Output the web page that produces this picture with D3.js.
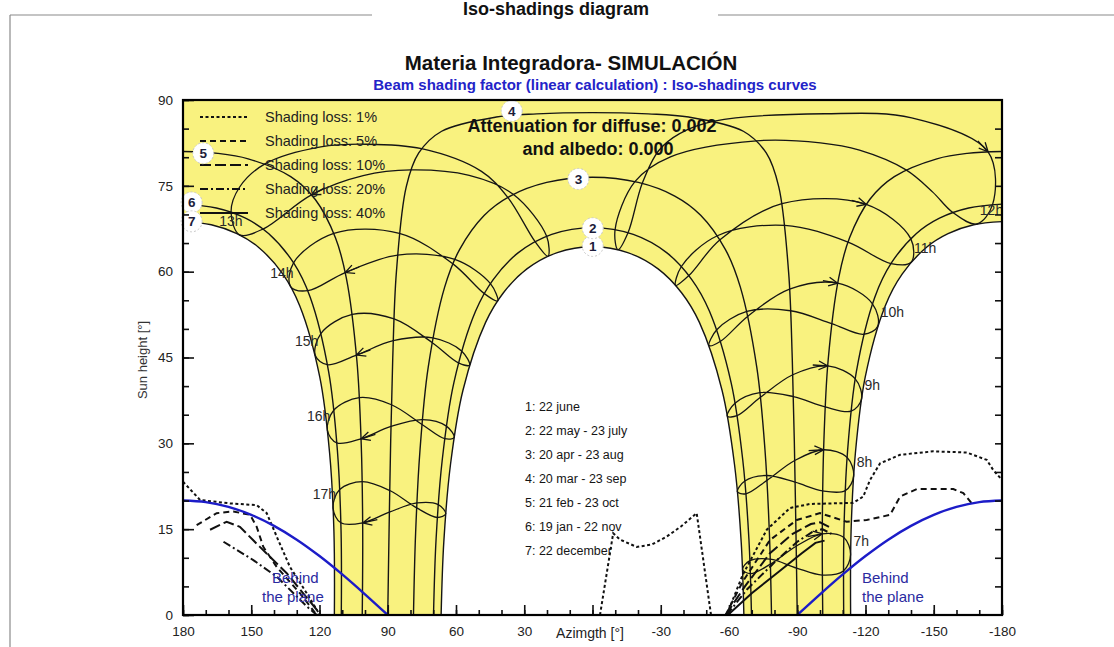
<!DOCTYPE html>
<html>
<head>
<meta charset="utf-8">
<script src="https://cdn.jsdelivr.net/npm/d3@7"></script>
<style>
  body { margin: 0; background: #fff; }
  svg { display: block; font-family: "Liberation Sans", Arial, sans-serif; }
</style>
</head>
<body>
<svg id="chart" width="1114" height="647"></svg>
<script>
// ---- Sun path curves: [azimuth (deg, west positive), sun height (deg)] ----
const path1 = [[66.54,0],[65.35,12.83],[62.42,26.30],[56.94,39.28],[46.99,51.14],[39.23,56.28],[28.83,60.48],[15.48,63.34],[0,64.36],[-15.48,63.34],[-28.83,60.48],[-39.23,56.28],[-46.99,51.14],[-56.94,39.28],[-62.42,26.30],[-65.35,12.83],[-66.54,0]];
const path2 = [[69.88,0],[68.75,13.28],[66.04,27.13],[60.95,40.57],[51.42,53.08],[43.65,58.62],[32.72,63.28],[17.92,66.51],[0,67.70],[-17.92,66.51],[-32.72,63.28],[-43.65,58.62],[-51.42,53.08],[-60.95,40.57],[-66.04,27.13],[-68.75,13.28],[-69.88,0]];
const path3 = [[78.69,0],[77.76,14.25],[75.82,28.84],[72.22,43.26],[65.02,57.25],[58.44,63.86],[47.55,69.87],[36.17,73.22],[20.12,75.60],[0,76.51],[-20.12,75.60],[-36.17,73.22],[-47.55,69.87],[-58.44,63.86],[-65.02,57.25],[-72.22,43.26],[-75.82,28.84],[-77.76,14.25],[-78.69,0]];
const path4 = [[90,0],[89.41,14.99],[88.73,29.98],[87.80,44.96],[86.20,59.92],[81.85,74.86],[76.37,80.74],[66.31,84.54],[42.29,87.02],[24.45,87.58],[0,87.80],[-24.45,87.58],[-42.29,87.02],[-66.31,84.54],[-76.37,80.74],[-81.85,74.86],[-86.20,59.92],[-87.80,44.96],[-88.73,29.98],[-89.41,14.99],[-90,0]];
const path5West = [[101.21,0],[101.01,15.14],[101.66,29.84],[103.57,44.47],[108.22,58.92],[112.99,65.93],[121.85,72.62],[132.67,76.61],[151.36,79.72],[164.71,80.67],[180,81.00]];
const path5East = [[-101.21,0],[-101.01,15.14],[-101.66,29.84],[-103.57,44.47],[-108.22,58.92],[-112.99,65.93],[-121.85,72.62],[-132.67,76.61],[-151.36,79.72],[-164.71,80.67],[-180,81.00]];
const path6West = [[110.42,0],[110.53,14.82],[112.14,28.80],[115.97,42.50],[124.09,55.54],[131.30,61.48],[142.27,66.63],[152.52,69.35],[165.35,71.13],[180,71.81]];
const path6East = [[-110.42,0],[-110.53,14.82],[-112.14,28.80],[-115.97,42.50],[-124.09,55.54],[-131.30,61.48],[-142.27,66.63],[-152.52,69.35],[-165.35,71.13],[-180,71.81]];
const path7West = [[113.46,0],[113.66,14.63],[115.55,28.27],[119.87,41.57],[128.66,54.02],[136.10,59.58],[146.84,64.28],[156.29,66.65],[167.56,68.20],[180,68.75]];
const path7East = [[-113.46,0],[-113.66,14.63],[-115.55,28.27],[-119.87,41.57],[-128.66,54.02],[-136.10,59.58],[-146.84,64.28],[-156.29,66.65],[-167.56,68.20],[-180,68.75]];

// ---- Hour loops through the year (Jan ... Dec), legal time ----
const hour07 = [[-110.29,7.70],[-101.02,6.97],[-89.68,8.21],[-78.14,9.75],[-69.20,9.50],[-65.96,7.96],[-69.42,7.23],[-78.20,8.89],[-89.53,12.01],[-101.00,14.18],[-110.46,13.53],[-113.44,10.57]];
const hour08 = [[-111.11,21.73],[-101.18,21.68],[-89.06,23.20],[-76.54,24.38],[-66.96,23.42],[-63.70,21.54],[-67.44,21.18],[-76.67,23.52],[-88.88,27.00],[-101.58,28.88],[-111.92,27.52],[-114.79,24.27]];
const hour09 = [[-113.67,35.61],[-102.30,36.37],[-88.27,38.17],[-73.57,38.87],[-62.63,37.01],[-59.26,34.75],[-63.53,34.83],[-73.80,38.04],[-88.02,41.98],[-103.39,43.52],[-115.49,41.26],[-118.26,37.71]];
const hour10 = [[-119.21,49.06],[-105.13,50.93],[-87.06,53.17],[-67.84,53.04],[-54.63,49.85],[-51.24,47.09],[-56.30,47.84],[-68.30,52.22],[-86.61,56.95],[-107.77,57.98],[-123.06,54.39],[-125.38,50.48]];
const hour11 = [[-131.18,61.42],[-112.32,65.17],[-84.51,68.10],[-54.89,66.28],[-39.07,60.90],[-36.54,57.59],[-42.37,59.32],[-56.04,65.57],[-83.25,71.87],[-120.31,71.76],[-139.89,65.77],[-140.04,61.64]];
const hour12 = [[-158.37,70.34],[-149.56,73.90],[-137.82,77.78],[-117.37,81.22],[-100.17,82.51],[-72.10,82.87],[-34.27,80.07],[-18.63,75.73],[-9.92,67.35],[-11.19,63.84],[-15.61,66.81],[-21.87,75.44],[-29.14,81.18],[-38.29,84.13],[-53.59,86.30],[-102.07,87.60],[-140.30,86.87],[-173.88,80.95],[-175.87,71.75],[-168.93,68.33]];
const hour13 = [[158.88,70.41],[155.17,74.75],[143.97,78.83],[119.45,81.81],[99.87,82.27],[75.12,81.49],[48.81,77.53],[37.24,72.99],[25.22,65.25],[19.59,62.69],[20.15,66.18],[34.85,73.53],[54.19,76.82],[79.78,77.78],[100.82,76.79],[123.54,73.42],[144.84,67.45],[155.11,66.43]];
const hour14 = [[131.42,61.55],[113.71,66.70],[84.89,66.70],[61.35,61.36],[47.55,56.16],[41.70,54.88],[44.87,57.91],[60.52,62.13],[85.69,62.90],[108.71,59.85],[125.20,56.67],[132.72,57.39]];
const hour15 = [[119.32,49.23],[105.62,52.52],[87.21,51.74],[70.55,47.62],[58.95,44.06],[54.06,43.67],[57.56,46.15],[70.19,48.43],[87.56,47.93],[103.77,45.43],[116.49,43.74],[121.84,45.36]];
const hour16 = [[113.73,35.79],[102.51,37.98],[88.36,36.74],[74.94,33.29],[64.95,30.81],[60.82,31.01],[64.21,33.01],[74.75,34.14],[88.57,32.95],[101.74,30.80],[112.38,30.07],[116.52,32.25]];
const hour17 = [[111.13,21.92],[101.25,23.31],[89.12,21.76],[77.29,18.73],[68.19,17.04],[64.54,17.67],[67.80,19.29],[77.18,19.59],[89.29,17.97],[101.02,16.10],[110.61,16.11],[114.03,18.68]];
const hourNames = ["7h","8h","9h","10h","11h","12h","13h","14h","15h","16h","17h"];
// index of the 23 October point in each loop (arrow position)
const arrowIndex = [9,9,9,9,9,17,15,9,9,9,9];

// ---- Iso-shading curves (loss level index: 0=1%,1=5%,2=10%,3=20%,4=40%) ----
const shade1West  = [[180,23.3],[172.5,20.1],[159.3,19.5],[147.6,19.2],[143.2,17.8],[138.8,13.7],[133,8.4],[125.6,3.8],[119.8,0]];
const shade5West  = [[174,15.7],[165.2,17.8],[157.9,18.1],[150.5,17.5],[147.6,15.4],[144.7,11.9],[138.8,8.4],[128.6,3.8],[121.2,0]];
const shade10West = [[168.1,14.9],[160.8,16.3],[155,15.4],[146.2,11.9],[134.4,7.3],[121.2,0.9],[120.5,0]];
const shade20West = [[162.2,12.8],[149.1,9.6],[138.8,6.7],[125.6,1.5],[121.2,0]];
const shade1North = [[-3.3,0],[-9.1,14.3],[-12,13.2],[-19.4,11.9],[-26,12.3],[-32.6,13.7],[-39,15.5],[-45.8,17.8],[-52.1,0]];
const shade1East  = [[-59,0],[-66,7],[-76.6,14.9],[-86.8,18.7],[-95.6,19.4],[-114.6,19.6],[-119,20.7],[-122,23.6],[-126.4,26.5],[-135.2,28.0],[-149.8,28.6],[-164.5,28.4],[-173.3,27.1],[-176.2,25.3],[-180,23.6]];
const shade5East  = [[-58.5,0],[-66,5.8],[-78,13.1],[-89.8,16.6],[-100,17.8],[-111.7,16.3],[-120.5,16.6],[-130.8,17.5],[-135.2,20.7],[-142.5,22.0],[-158.6,22.0],[-163,21.3],[-167.4,19.2]];
const shade10East = [[-58.5,0],[-67,5],[-78,10.8],[-88,14.2],[-96,15.9],[-100,16.2],[-105,15.2]];
const shade20East = [[-59,0],[-68,4.5],[-80,9.2],[-90,12.8],[-97,14.6],[-101,15.0],[-105,14.2]];
const shade40East = [[-59.5,0],[-70,3.8],[-82,7.6],[-92,10.8],[-98,12.6],[-102,13.0]];
const shadeSeries = [shade1West, shade5West, shade10West, shade20West, shade1North, shade1East, shade5East, shade10East, shade20East, shade40East];
const shadeLevel  = [0,1,2,3,0,0,1,2,3,4];
const lossLabels = ["Shading loss: 1%","Shading loss: 5%","Shading loss: 10%","Shading loss: 20%","Shading loss: 40%"];

// ---- Plane horizon ("behind the plane") ----
const planeWest = [[180,20.0],[170,19.72],[160,18.88],[150,17.50],[140,15.58],[130,13.17],[120,10.31],[110,7.10],[100,3.62],[90,0]];
const planeEast = [[-90,0],[-100,3.62],[-110,7.10],[-120,10.31],[-130,13.17],[-140,15.58],[-150,17.50],[-160,18.88],[-170,19.72],[-180,20.0]];

// ---- Date tags and legend ----
const tagText = ["1","2","3","4","5","6","7"];
const tagPos  = [[-0.1,64.5],[-0.1,67.6],[6.2,76.2],[35.5,88.1],[171.1,80.7],[176.2,72.1],[176.2,68.8]];
const dateLegend = ["1: 22 june","2: 22 may - 23 july","3: 20 apr - 23 aug","4: 20 mar - 23 sep","5: 21 feb - 23 oct","6: 19 jan - 22 nov","7: 22 december"];

// ---- Axes ----
const azTicks = [180,150,120,90,60,30,0,-30,-60,-90,-120,-150,-180];
const azTickLabels = ["180","150","120","90","60","30","","-30","-60","-90","-120","-150","-180"];
const heightTicks = [0,15,30,45,60,75,90];

// ================= drawing =================
const svg = d3.select("#chart");
const x = d3.scaleLinear().domain([180, -180]).range([183, 1002]);
const y = d3.scaleLinear().domain([0, 90]).range([615, 100]);
const X0 = x(180), X1 = x(-180), Y0 = y(0), Y1 = y(90);

const smooth = d3.line().x(d => x(d[0])).y(d => y(d[1])).curve(d3.curveCatmullRom.alpha(0.5));
const loop = d3.line().x(d => x(d[0])).y(d => y(d[1])).curve(d3.curveCatmullRomClosed.alpha(0.5));
const poly = d3.line().x(d => x(d[0])).y(d => y(d[1]));

// outer frame
const frame = svg.append("g").attr("stroke", "#8a8a8a").attr("stroke-width", 1.2);
frame.append("line").attr("x1", 10).attr("y1", 15).attr("x2", 372).attr("y2", 15);
frame.append("line").attr("x1", 718).attr("y1", 15).attr("x2", 1114).attr("y2", 15);
frame.append("line").attr("x1", 10).attr("y1", 15).attr("x2", 10).attr("y2", 647);
svg.append("text").attr("x", 556).attr("y", 15).attr("text-anchor", "middle")
  .attr("font-size", 18).attr("font-weight", "bold").attr("fill", "#111")
  .text("Iso-shadings diagram");

// titles
svg.append("text").attr("x", 571).attr("y", 70).attr("text-anchor", "middle")
  .attr("font-size", 20.5).attr("font-weight", "bold").attr("fill", "#111")
  .text("Materia Integradora- SIMULACIÓN");
svg.append("text").attr("x", 595).attr("y", 90).attr("text-anchor", "middle")
  .attr("font-size", 15).attr("font-weight", "bold").attr("fill", "#2323c8")
  .text("Beam shading factor (linear calculation) : Iso-shadings curves");

// plot clip
svg.append("defs").append("clipPath").attr("id", "plotArea")
  .append("rect").attr("x", X0).attr("y", Y1).attr("width", X1 - X0).attr("height", Y0 - Y1);
const plot = svg.append("g").attr("clip-path", "url(#plotArea)");

// sun band (between 22 december and 22 june paths)
const body = s => s.slice(1);
const band = "M" + X0 + "," + Y1 +
  "L" + body(smooth(path7West.slice().reverse())) +
  "L" + body(smooth(path1)) +
  "L" + body(smooth(path7East)) +
  "L" + X1 + "," + Y1 + "Z";
plot.append("path").attr("d", band).attr("fill", "#f9f27f");

// date curves
const dateG = plot.append("g").attr("fill", "none").attr("stroke", "#151515").attr("stroke-width", 1.4);
[path1, path2, path3, path4, path5West, path5East, path6West, path6East, path7West, path7East]
  .forEach(p => dateG.append("path").attr("d", smooth(p)));

// hour loops
const hourLoops = [hour07, hour08, hour09, hour10, hour11, hour12, hour13, hour14, hour15, hour16, hour17];
const hourG = plot.append("g").attr("fill", "none").attr("stroke", "#151515").attr("stroke-width", 1.3);
hourLoops.forEach((L, i) => {
  hourG.append("path").attr("d", loop(L));
  const k = arrowIndex[i], n = L.length;
  const p = [x(L[k][0]), y(L[k][1])];
  const a = [x(L[(k - 1 + n) % n][0]), y(L[(k - 1 + n) % n][1])];
  const b = [x(L[(k + 1) % n][0]), y(L[(k + 1) % n][1])];
  let dx = b[0] - a[0], dy = b[1] - a[1];
  const len = Math.hypot(dx, dy); dx /= len; dy /= len;
  const ang = 26 * Math.PI / 180, leg = 10, tail = 15;
  const r1 = [dx * Math.cos(ang) - dy * Math.sin(ang), dx * Math.sin(ang) + dy * Math.cos(ang)];
  const r2 = [dx * Math.cos(-ang) - dy * Math.sin(-ang), dx * Math.sin(-ang) + dy * Math.cos(-ang)];
  const d = `M${p[0] - dx * tail},${p[1] - dy * tail}L${p[0]},${p[1]}` +
            `M${p[0] - r1[0] * leg},${p[1] - r1[1] * leg}L${p[0]},${p[1]}L${p[0] - r2[0] * leg},${p[1] - r2[1] * leg}`;
  hourG.append("path").attr("d", d);
});

// hour labels next to the 22 december point
const labelG = svg.append("g").attr("font-size", 14).attr("fill", "#2a2a2a");
hourLoops.forEach((L, i) => {
  const dec = L[L.length - 1];
  const east = dec[0] < 0;
  labelG.append("text")
    .attr("x", x(dec[0]) + 3)
    .attr("y", y(dec[1]) - 9)
    .attr("text-anchor", east ? "start" : "end")
    .text(hourNames[i]);
});

// iso-shading curves
const dashes = ["3,2.5", "6,4", "11,4", "8,3,2,3", null];
const shadeG = plot.append("g").attr("fill", "none").attr("stroke", "#111").attr("stroke-width", 2);
shadeSeries.forEach((s, i) => {
  const path = shadeG.append("path").attr("d", poly(s));
  if (dashes[shadeLevel[i]]) path.attr("stroke-dasharray", dashes[shadeLevel[i]]);
});

// plane horizon
const planeG = plot.append("g").attr("fill", "none").attr("stroke", "#1c1cc8").attr("stroke-width", 2.4);
planeG.append("path").attr("d", smooth(planeWest));
planeG.append("path").attr("d", smooth(planeEast));
const blueText = svg.append("g").attr("font-size", 15).attr("fill", "#2a2aa0");
blueText.append("text").attr("x", 272).attr("y", 583).text("Behind");
blueText.append("text").attr("x", 262).attr("y", 602).text("the plane");
blueText.append("text").attr("x", 862).attr("y", 583).text("Behind");
blueText.append("text").attr("x", 862).attr("y", 602).text("the plane");

// legend of loss levels
const leg = svg.append("g");
lossLabels.forEach((t, i) => {
  const yy = 117 + i * 24;
  const l = leg.append("line").attr("x1", 200).attr("x2", 248).attr("y1", yy).attr("y2", yy)
    .attr("stroke", "#111").attr("stroke-width", 2);
  if (dashes[i]) l.attr("stroke-dasharray", dashes[i]);
  leg.append("text").attr("x", 265).attr("y", yy + 5).attr("font-size", 14.5).attr("fill", "#222").text(t);
});

// attenuation text
svg.append("text").attr("x", 592).attr("y", 132).attr("text-anchor", "middle")
  .attr("font-size", 18).attr("font-weight", "bold").attr("fill", "#111")
  .text("Attenuation for diffuse: 0.002");
svg.append("text").attr("x", 598).attr("y", 155).attr("text-anchor", "middle")
  .attr("font-size", 18).attr("font-weight", "bold").attr("fill", "#111")
  .text("and albedo: 0.000");

// date legend
const dl = svg.append("g").attr("font-size", 12.5).attr("fill", "#151515");
dateLegend.forEach((t, i) => dl.append("text").attr("x", 525).attr("y", 411 + i * 24).text(t));

// date tags
const tags = svg.append("g");
tagText.forEach((t, i) => {
  const cx = x(tagPos[i][0]), cy = y(tagPos[i][1]);
  tags.append("circle").attr("cx", cx).attr("cy", cy).attr("r", 10.5)
    .attr("fill", "#fff").attr("stroke", "#c8c8c8").attr("stroke-width", 1).attr("stroke-dasharray", "2,2");
  tags.append("text").attr("x", cx).attr("y", cy + 5).attr("text-anchor", "middle")
    .attr("font-size", 13.5).attr("font-weight", "bold").attr("fill", "#1c1c3a").text(t);
});

// axes
const clean = g => { g.select(".domain").remove(); g.selectAll("line").attr("stroke", "#111").attr("stroke-width", 1.6); };
const axG = svg.append("g");
axG.append("g").attr("transform", `translate(0,${Y0})`)
  .call(d3.axisBottom(x).tickValues(d3.range(-180, 181, 10)).tickSize(-5).tickFormat("")).call(clean);
axG.append("g").attr("transform", `translate(0,${Y0})`)
  .call(d3.axisBottom(x).tickValues(azTicks).tickSize(-10).tickPadding(11)
    .tickFormat((d, i) => azTickLabels[i])).call(clean)
  .selectAll("text").attr("font-size", 13.5).attr("fill", "#222").attr("font-family", null);
axG.append("g").attr("transform", `translate(${X0},0)`)
  .call(d3.axisLeft(y).tickValues(d3.range(0, 91, 5)).tickSize(-6).tickFormat("")).call(clean);
axG.append("g").attr("transform", `translate(${X0},0)`)
  .call(d3.axisLeft(y).tickValues(heightTicks).tickSize(-11).tickPadding(10)).call(clean)
  .selectAll("text").attr("font-size", 13.5).attr("fill", "#222");
axG.append("g").attr("transform", `translate(${X1},0)`)
  .call(d3.axisRight(y).tickValues(d3.range(5, 90, 5)).tickSize(-7).tickFormat("")).call(clean);
axG.selectAll("g").attr("font-family", null);

svg.append("rect").attr("x", X0).attr("y", Y1).attr("width", X1 - X0).attr("height", Y0 - Y1)
  .attr("fill", "none").attr("stroke", "#000").attr("stroke-width", 2.2);

svg.append("text").attr("x", 590).attr("y", 638).attr("text-anchor", "middle")
  .attr("font-size", 14).attr("fill", "#222").text("Azimgth [°]");
svg.append("text").attr("transform", "translate(147,360) rotate(-90)").attr("text-anchor", "middle")
  .attr("font-size", 13).attr("fill", "#333").text("Sun height [°]");
</script>
</body>
</html>
